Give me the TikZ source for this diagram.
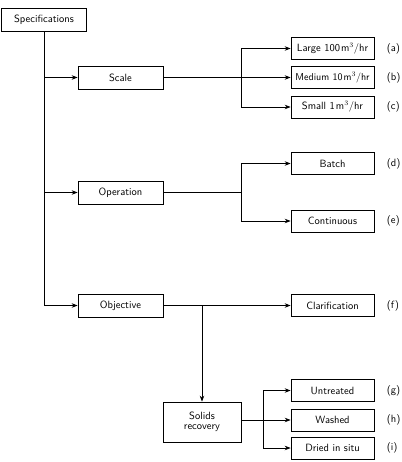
\documentclass[tikz,border=0pt]{standalone}
\usetikzlibrary{positioning, arrows.meta}
\tikzset{
  box/.style = {draw, line width = 0.7pt, minimum width = 85pt, minimum height = 23pt, inner sep = 1pt},
  rbox/.style = {box, minimum width = 83pt, minimum height = 22pt},
  tag/.style = {inner sep = 0pt}
}
\begin{document}
\sffamily\fontsize{10.5}{12}\selectfont
\begin{tikzpicture}[x = 1pt, y = -1pt, > = {Stealth[length = 6pt, width = 4.5pt]}, line width = 0.8pt]
            \useasboundingbox (0, 0) rectangle (401, 462);

            \node[box] (spec) at (44, 19.5) {Specifications};
            \node[box] (scale) at (120.5, 77.5) {Scale};
            \node[box] (oper) at (120.5, 192.5) {Operation};
            \node[box] (obj) at (120.5, 305.5) {Objective};
            \node[box, minimum width = 78pt, minimum height = 40pt, align = center] (solids) at (202, 422) {Solids\\[-2pt]recovery};

            \node[rbox] (large) at (332.5, 48.5) {Large 100\kern1pt m$^3$/hr};
            \node[rbox] (medium) at (332.5, 77.5) {\fontsize{10}{12}\selectfont Medium 10\kern1pt m$^3$/hr};
            \node[rbox] (small) at (332.5, 107) {Small 1\kern1pt m$^3$/hr};
            \node[rbox] (batch) at (332.5, 163.5) {Batch};
            \node[rbox] (cont) at (332.5, 221) {Continuous};
            \node[rbox] (clar) at (332.5, 305.5) {Clarification};
            \node[rbox] (untr) at (332.5, 390.5) {Untreated};
            \node[rbox] (wash) at (332.5, 420) {Washed};
            \node[rbox] (dried) at (332.5, 448) {Dried in situ};

            \node[tag, right = 12pt of large] (la) {(a)};
            \node[tag, right = 12pt of medium] (lb) {(b)};
            \node[tag, right = 12pt of small] (lc) {(c)};
            \node[tag, right = 12pt of batch] (ld) {(d)};
            \node[tag, right = 12pt of cont] (le) {(e)};
            \node[tag, right = 12pt of clar] (lf) {(f)};
            \node[tag, right = 12pt of untr] (lg) {(g)};
            \node[tag, right = 12pt of wash] (lh) {(h)};
            \node[tag, right = 12pt of dried] (li) {(i)};

            % trunk
            \draw[->] (spec.south) |- (obj.west);
            \draw[->] (spec.south |- scale) -- (scale.west);
            \draw[->] (spec.south |- oper) -- (oper.west);

            % scale
            \coordinate (sfork) at (241, 77.5);
            \draw[->] (scale.east) -- (medium.west);
            \draw[->] (sfork) |- (large.west);
            \draw[->] (sfork) |- (small.west);

            % operation
            \coordinate (ofork) at (241, 192.5);
            \draw (oper.east) -- (ofork);
            \draw[->] (ofork) |- (batch.west);
            \draw[->] (ofork) |- (cont.west);

            % objective
            \draw[->] (obj.east) -- (clar.west);
            \draw[->] (obj.east -| solids.north) -- (solids.north);

            % solids recovery
            \coordinate (rfork) at (263, 420);
            \draw[->] (solids.east |- wash) -- (wash.west);
            \draw[->] (rfork) |- (untr.west);
            \draw[->] (rfork) |- (dried.west);

        \end{tikzpicture}
\end{document}
